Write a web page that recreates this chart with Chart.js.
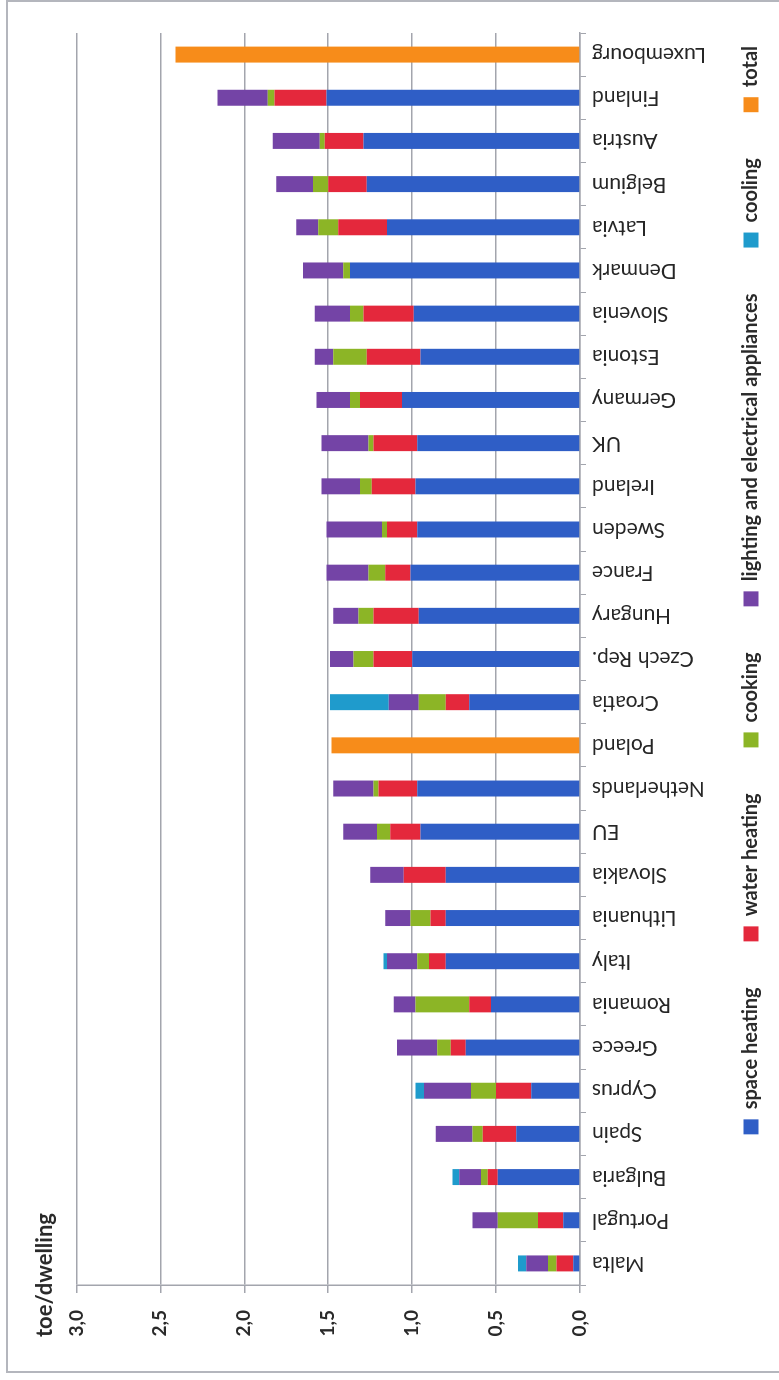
<!DOCTYPE html>
<html>
<head>
<meta charset="utf-8">
<title>toe/dwelling</title>
<script src="https://cdn.jsdelivr.net/npm/chart.js@4.4.1/dist/chart.umd.min.js"></script>
<style>
  html, body { margin: 0; padding: 0; background: #fff; overflow: hidden; }
  /* the chart is drawn upright, then turned a quarter counterclockwise like the scan */
  #page {
    position: absolute; left: 0; top: 0;
    width: 1380px; height: 779px;
    transform-origin: 0 0;
    transform: translateY(1380px) rotate(-90deg);
  }
  #frame {
    position: absolute; left: 7px; top: 6px; right: 0; bottom: 0;
    border: 2px solid #b4b6bd; border-bottom: none;
  }
  #energyChart { position: absolute; left: 0; top: 0; }
</style>
</head>
<body>
<div id="page">
  <div id="frame"></div>
  <canvas id="energyChart" width="1380" height="779"></canvas>
</div>
<script>
const countries = ["Malta", "Portugal", "Bulgaria", "Spain", "Cyprus", "Greece", "Romania", "Italy",
  "Lithuania", "Slovakia", "EU", "Netherlands", "Poland", "Croatia", "Czech Rep.", "Hungary",
  "France", "Sweden", "Ireland", "UK", "Germany", "Estonia", "Slovenia", "Denmark", "Latvia",
  "Belgium", "Austria", "Finland", "Luxembourg"];

const spaceHeating = [0.04, 0.10, 0.49, 0.38, 0.29, 0.68, 0.53, 0.80, 0.80, 0.80, 0.95, 0.97, null,
  0.66, 1.00, 0.96, 1.01, 0.97, 0.98, 0.97, 1.06, 0.95, 0.99, 1.37, 1.15, 1.27, 1.29, 1.51, null];
const waterHeating = [0.10, 0.15, 0.06, 0.20, 0.21, 0.09, 0.13, 0.10, 0.09, 0.25, 0.18, 0.23, null,
  0.14, 0.23, 0.27, 0.15, 0.18, 0.26, 0.26, 0.25, 0.32, 0.30, null, 0.29, 0.23, 0.23, 0.31, null];
const cooking = [0.05, 0.24, 0.04, 0.06, 0.15, 0.08, 0.32, 0.07, 0.12, null, 0.08, 0.03, null,
  0.16, 0.12, 0.09, 0.10, 0.03, 0.07, 0.03, 0.06, 0.20, 0.08, 0.04, 0.12, 0.09, 0.03, 0.04, null];
const lighting = [0.13, 0.15, 0.13, 0.22, 0.28, 0.24, 0.13, 0.18, 0.15, 0.20, 0.20, 0.24, null,
  0.18, 0.14, 0.15, 0.25, 0.33, 0.23, 0.28, 0.20, 0.11, 0.21, 0.24, 0.13, 0.22, 0.28, 0.30, null];
const cooling = [0.05, null, 0.04, null, 0.05, null, null, 0.02, null, null, null, null, null,
  0.35, null, null, null, null, null, null, null, null, null, null, null, null, null, null, null];
const total = [null, null, null, null, null, null, null, null, null, null, null, null, 1.48,
  null, null, null, null, null, null, null, null, null, null, null, null, null, null, null, 2.41];

const yTicks = [0, 0.5, 1, 1.5, 2, 2.5, 3];

const fontFamily = "Lato, 'Noto Sans', sans-serif";

let ctx = document.getElementById("energyChart").getContext("2d");

let energyChart = new Chart(ctx, {
  type: "bar",
  data: {
    labels: countries,
    datasets: [
      { label: "space heating", data: spaceHeating, backgroundColor: "#2f5ec6" },
      { label: "water heating", data: waterHeating, backgroundColor: "#e4283c" },
      { label: "cooking", data: cooking, backgroundColor: "#8cb526" },
      { label: "lighting and electrical appliances", data: lighting, backgroundColor: "#7444a6" },
      { label: "cooling", data: cooling, backgroundColor: "#1f9bcc" },
      { label: "total", data: total, backgroundColor: "#f78c1a" },
    ],
  },
  options: {
    responsive: false,
    animation: false,
    datasets: {
      bar: {
        barPercentage: 0.37,
        categoryPercentage: 1.0,
      },
    },
    layout: {
      padding: { left: 43, right: 0, top: 32, bottom: 8 },
    },
    plugins: {
      title: {
        display: true,
        fullSize: true,
        text: "toe/dwelling",
        align: "start",
        color: "#2a2a2a",
        font: { family: fontFamily, size: 22, weight: "bold" },
        padding: { top: 0, bottom: 18 },
      },
      legend: {
        position: "bottom",
        align: "end",
        labels: {
          boxWidth: 15,
          boxHeight: 15,
          padding: 46,
          color: "#2a2a2a",
          font: { family: fontFamily, size: 20, weight: "bold" },
        },
      },
      tooltip: { enabled: false },
    },
    scales: {
      x: {
        stacked: true,
        // keep the plot clear of the right edge; the long names hang into the legend's top margin
        afterFit: (axis) => {
          axis.paddingRight = 33;
          axis.height = 115;
        },
        grid: {
          drawOnChartArea: false,
          tickLength: 6,
          color: "#a3a5ad",
        },
        border: { color: "#a3a5ad", width: 1.5 },
        ticks: {
          minRotation: 90,
          maxRotation: 90,
          mirror: true,
          padding: -12,
          labelOffset: 25,
          color: "#262626",
          font: { family: fontFamily, size: 21 },
        },
      },
      y: {
        stacked: true,
        min: 0,
        max: 3,
        afterBuildTicks: (axis) => {
          axis.ticks = yTicks.map((v) => ({ value: v }));
        },
        afterFit: (axis) => {
          axis.width = 52;
        },
        grid: {
          color: "#a3a5ad",
          lineWidth: 1.5,
          tickLength: 8,
        },
        border: { color: "#a3a5ad", width: 1.5 },
        ticks: {
          padding: 17,
          color: "#2a2a2a",
          font: { family: fontFamily, size: 19, weight: "bold" },
          callback: function (value) {
            return value.toFixed(1).replace(".", ",");
          },
        },
      },
    },
  },
});
</script>
</body>
</html>
